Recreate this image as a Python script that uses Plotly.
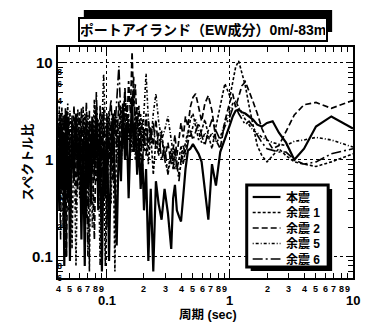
import math
import plotly.graph_objects as go

# Period axis (sec), shared by all records
period = [
    0.040, 0.041, 0.042, 0.043, 0.044, 0.045, 0.046, 0.047, 0.048, 0.049,
    0.050, 0.052, 0.054, 0.056, 0.058, 0.060, 0.062, 0.064, 0.066, 0.068,
    0.070, 0.072, 0.074, 0.076, 0.079, 0.082, 0.085, 0.088, 0.091, 0.094, 0.097,
    0.100, 0.104, 0.108, 0.112, 0.116, 0.120, 0.125, 0.130, 0.135, 0.140,
    0.145, 0.150, 0.155, 0.160, 0.165, 0.170, 0.176, 0.182, 0.188, 0.194,
    0.200, 0.208, 0.217, 0.227, 0.238, 0.250, 0.263, 0.278, 0.294, 0.313,
    0.333, 0.345, 0.357, 0.370, 0.385, 0.400, 0.417, 0.435, 0.455, 0.476,
    0.500, 0.526, 0.556, 0.588, 0.625, 0.667, 0.714, 0.769, 0.833, 0.909,
    1.000, 1.053, 1.111, 1.176, 1.250, 1.333, 1.429, 1.538, 1.667, 1.818,
    2.000, 2.222, 2.500, 2.857, 3.333, 4.000, 5.000, 6.667, 10.00,
]

# Spectral ratio 0m / -83m, EW component
honshin = [
    1.2, 0.3, 2.5, 0.5, 1.8, 0.08, 1.5, 3.2, 0.4, 1.1,
    0.09, 2.2, 0.6, 3.0, 0.7, 2.0, 0.15, 1.6, 0.08, 2.6,
    0.5, 1.4, 0.35, 2.8, 0.9, 3.5, 0.3, 1.9, 0.07, 1.5, 0.4,
    2.4, 0.09, 1.3, 3.0, 0.5, 0.13, 1.7, 0.6, 3.8, 1.0,
    2.2, 0.4, 1.6, 4.5, 1.2, 2.4, 0.7, 1.5, 0.5, 1.1,
    0.3, 0.8, 0.09, 0.5, 0.07, 0.6, 0.35, 0.24, 0.5, 0.28,
    0.12, 0.4, 0.55, 0.3, 0.26, 0.23, 0.42, 0.8, 1.24, 1.3,
    1.45, 1.3, 1.15, 0.95, 0.5, 0.24, 0.9, 0.54, 1.2, 1.6,
    2.3, 2.8, 3.2, 3.3, 3.1, 3.0, 2.8, 2.6, 2.3, 2.2,
    2.4, 2.5, 1.9, 1.5, 1.0, 1.3, 2.2, 2.8, 2.1,
]
yoshin1 = [
    0.6, 2.8, 0.9, 3.5, 0.2, 1.6, 0.5, 2.0, 3.8, 0.6,
    1.8, 0.12, 2.4, 1.0, 3.3, 0.4, 2.2, 0.9, 3.0, 0.25,
    1.7, 0.07, 2.5, 0.8, 4.2, 1.1, 2.6, 0.5, 3.0, 0.9, 0.08,
    1.5, 3.2, 0.8, 2.0, 0.07, 2.8, 1.2, 3.5, 1.4, 5.0,
    2.0, 3.0, 1.1, 2.5, 1.6, 3.2, 1.3, 2.6, 1.0, 1.8,
    1.2, 2.3, 0.9, 1.9, 0.7, 1.6, 1.1, 2.0, 1.0, 0.75,
    1.3, 0.9, 1.2, 0.8, 1.0, 1.4, 0.9, 1.3, 1.9, 2.6,
    3.0, 2.3, 1.6, 2.0, 2.6, 1.8, 1.3, 2.2, 3.5, 6.1,
    4.5, 6.5, 9.0, 10.5, 8.0, 5.8, 3.6, 2.2, 1.4, 1.1,
    0.95, 1.1, 1.3, 1.1, 0.95, 0.9, 0.85, 0.95, 1.15,
]
yoshin2 = [
    2.0, 0.7, 3.0, 1.2, 2.6, 0.6, 3.4, 0.1, 1.5, 2.8,
    0.7, 1.3, 3.6, 0.3, 1.9, 3.1, 0.6, 2.7, 1.0, 3.9,
    1.2, 2.4, 0.5, 1.5, 0.15, 2.1, 0.6, 3.6, 1.0, 2.5, 0.45,
    3.0, 1.0, 2.5, 0.6, 3.3, 1.4, 4.0, 1.0, 2.2, 5.5,
    2.0, 6.5, 3.0, 13.0, 3.5, 6.0, 2.2, 3.6, 1.5, 2.6,
    1.6, 3.0, 1.3, 2.2, 1.4, 2.6, 1.2, 1.8, 1.0, 1.5,
    0.9, 1.3, 1.8, 1.1, 1.6, 2.4, 1.7, 2.8, 2.2, 3.5,
    4.4, 4.8, 3.5, 2.5, 3.8, 4.6, 3.2, 1.6, 1.3, 2.5,
    4.0, 4.8, 3.5, 4.6, 5.8, 6.4, 5.2, 4.0, 3.0, 2.1,
    1.6, 1.3, 1.4, 2.0, 2.9, 3.7, 3.9, 3.4, 4.1,
]
yoshin5 = [
    0.9, 3.6, 0.4, 1.5, 2.9, 0.8, 0.1, 1.2, 2.2, 0.3,
    3.2, 0.8, 1.6, 0.08, 1.3, 2.6, 1.0, 3.6, 0.5, 1.4,
    2.9, 0.7, 1.8, 0.2, 2.3, 0.6, 1.4, 0.08, 2.2, 7.7, 1.6,
    0.6, 2.1, 0.35, 1.8, 2.8, 0.9, 2.3, 0.8, 2.6, 1.2,
    3.8, 1.6, 2.4, 1.2, 2.0, 1.0, 2.8, 1.4, 3.0, 1.6,
    3.5, 7.7, 2.6, 1.5, 3.0, 4.8, 2.5, 1.6, 2.0, 2.8,
    1.6, 1.2, 0.8, 1.0, 0.7, 0.9, 1.2, 1.6, 2.0, 1.7,
    2.2, 2.6, 2.0, 1.5, 1.9, 1.6, 1.9, 1.5, 1.7, 2.4,
    3.2, 3.8, 4.0, 3.5, 3.0, 2.6, 2.3, 2.0, 1.9, 1.7,
    1.6, 1.5, 1.45, 1.4, 1.55, 1.6, 1.7, 1.6, 1.35,
]
yoshin6 = [
    2.4, 1.0, 0.15, 2.2, 0.9, 3.0, 1.2, 0.5, 2.6, 1.3,
    0.4, 2.9, 0.9, 2.0, 0.5, 1.3, 3.4, 0.3, 2.1, 0.9,
    0.1, 3.2, 1.1, 2.2, 0.6, 5.0, 1.2, 2.4, 0.6, 3.5, 1.1,
    0.2, 2.6, 4.2, 1.1, 2.0, 4.5, 9.3, 2.5, 1.3, 3.0,
    1.1, 2.6, 1.3, 3.2, 7.2, 2.1, 3.5, 1.0, 2.2, 0.8,
    2.0, 1.1, 2.5, 1.6, 2.4, 1.3, 1.9, 1.0, 1.4, 0.7,
    1.1, 0.8, 1.3, 0.9, 0.6, 1.0, 1.4, 1.1, 1.5, 2.0,
    1.6, 1.9, 2.4, 1.8, 1.4, 2.0, 2.6, 2.0, 1.6, 2.2,
    2.8, 3.4, 3.6, 3.0, 2.6, 2.3, 2.5, 2.2, 1.8, 1.5,
    1.3, 1.25, 1.2, 1.2, 1.0, 0.9, 0.95, 1.15, 1.3,
]

series = [honshin, yoshin1, yoshin2, yoshin5, yoshin6]
names = ["本震", "余震 1", "余震 2", "余震 5", "余震 6"]
dashes = ["solid", "3px,2px", "6px,3px", "1px,2px,3px,2px", "10px,3px,2px,3px"]
widths = [2.2, 1.6, 1.7, 1.6, 1.6]

title_text = "ポートアイランド（EW成分）0m/-83m"
x_title = "周期 (sec)"
y_title = "スペクトル比"

x_major = [0.1, 1, 10]
x_minor = [0.04, 0.05, 0.06, 0.07, 0.08, 0.09,
           0.2, 0.3, 0.4, 0.5, 0.6, 0.7, 0.8, 0.9,
           2, 3, 4, 5, 6, 7, 8, 9]
x_minor_text = ["4", "5", "6", "7", "8", "9",
                "2", "3", "4", "5", "6", "7", "8", "9",
                "2", "3", "4", "5", "6", "7", "8", "9"]
y_major = [0.1, 1, 10]
y_minor = [0.06, 0.07, 0.08, 0.09,
           0.2, 0.3, 0.4, 0.5, 0.6, 0.7, 0.8, 0.9,
           2, 3, 4, 5, 6, 7, 8, 9]
y_minor_labels = {0.06: "6", 0.08: "8", 0.2: "2", 0.4: "4", 0.6: "6", 0.8: "8",
                  2: "2", 4: "4", 6: "6", 8: "8"}

FONT = "Liberation Sans, Noto Sans CJK JP, sans-serif"
W, H = 365, 330
ML, MR, MT, MB = 58, 10, 47, 52
PW, PH = W - ML - MR, H - MT - MB


def px(x):
    return (x - ML) / PW


def py(y):
    return (H - MB - y) / PH


fig = go.Figure()
for vals, name, dash, w in zip(series, names, dashes, widths):
    fig.add_trace(go.Scatter(
        x=period, y=vals, name=name, mode="lines",
        line=dict(color="black", width=w, dash=dash),
    ))

axis_common = dict(
    type="log", showline=True, linewidth=2, linecolor="black", mirror="allticks",
    ticks="inside", ticklen=6, tickwidth=1.2, tickcolor="black",
    showticklabels=False, showgrid=True, gridcolor="black", gridwidth=1,
    griddash="dot", zeroline=False,
)
fig.update_xaxes(
    range=[math.log10(0.04), 1], tickvals=x_major,
    minor=dict(tickvals=x_minor, ticks="inside", ticklen=5, tickcolor="black",
               tickwidth=1.2, showgrid=False),
    **axis_common,
)
fig.update_yaxes(
    range=[math.log10(0.06), math.log10(14.6)], tickvals=y_major,
    minor=dict(tickvals=y_minor, ticks="inside", ticklen=5, tickcolor="black",
               tickwidth=1.2, showgrid=False),
    **axis_common,
)

ann = []
bold = dict(family=FONT, color="black", weight="bold")
for v, t in zip(x_minor, x_minor_text):
    ann.append(dict(x=math.log10(v), y=0, xref="x", yref="paper", text=t,
                    showarrow=False, yanchor="top", yshift=-4,
                    font=dict(size=9, **bold)))
for v in x_major:
    ann.append(dict(x=math.log10(v), y=0, xref="x", yref="paper", text=str(v),
                    showarrow=False, yanchor="top", yshift=-14, borderpad=0,
                    font=dict(size=13, **bold)))
for v in y_major:
    ann.append(dict(x=0, y=math.log10(v), xref="paper", yref="y", text=str(v),
                    showarrow=False, xanchor="right", xshift=-3,
                    font=dict(size=15, **bold)))
for v, t in y_minor_labels.items():
    ann.append(dict(x=0, y=math.log10(v), xref="paper", yref="y", text=t,
                    showarrow=False, xanchor="center", xshift=1,
                    font=dict(size=9, **bold)))
ann.append(dict(x=px(209), y=py(323), xref="paper", yref="paper", text=x_title,
                showarrow=False, borderpad=0, font=dict(size=12.5, **bold)))
ann.append(dict(x=px(17), y=py(162), xref="paper", yref="paper", text=y_title,
                textangle=-90, showarrow=False, font=dict(size=13, **bold)))
# title inside a bordered box
ann.append(dict(x=px(204), y=py(17), xref="paper", yref="paper", text=title_text,
                showarrow=False, width=244, height=19, borderpad=1,
                bordercolor="black", borderwidth=2, bgcolor="white",
                font=dict(size=14, **bold)))

shapes = [
    # title drop shadow (sits behind the title box)
    dict(type="rect", xref="paper", yref="paper", layer="below",
         x0=px(84), x1=px(334), y0=py(32), y1=py(10),
         fillcolor="black", line=dict(width=0)),
    # legend frame with drop shadow
    dict(type="rect", xref="paper", yref="paper", x0=px(252), x1=px(334),
         y0=py(271), y1=py(189), fillcolor="black", line=dict(width=0)),
    dict(type="rect", xref="paper", yref="paper", x0=px(248), x1=px(330),
         y0=py(267), y1=py(185), fillcolor="white",
         line=dict(color="black", width=3)),
]

# legend entries
leg_y = [197, 212.5, 228, 243.5, 259]
for yy, name, dash, w in zip(leg_y, names, dashes, widths):
    shapes.append(dict(type="line", xref="paper", yref="paper",
                       x0=px(254), x1=px(282), y0=py(yy), y1=py(yy),
                       line=dict(color="black", width=w, dash=dash)))
    ann.append(dict(x=px(286), y=py(yy), xref="paper", yref="paper", text=name,
                    showarrow=False, xanchor="left", yanchor="middle",
                    font=dict(size=12, **bold)))

fig.update_layout(
    width=W, height=H, margin=dict(l=ML, r=MR, t=MT, b=MB),
    paper_bgcolor="white", plot_bgcolor="white",
    font=dict(family=FONT, color="black"),
    showlegend=False,
    annotations=ann, shapes=shapes,
)

fig.write_html("out.html")
